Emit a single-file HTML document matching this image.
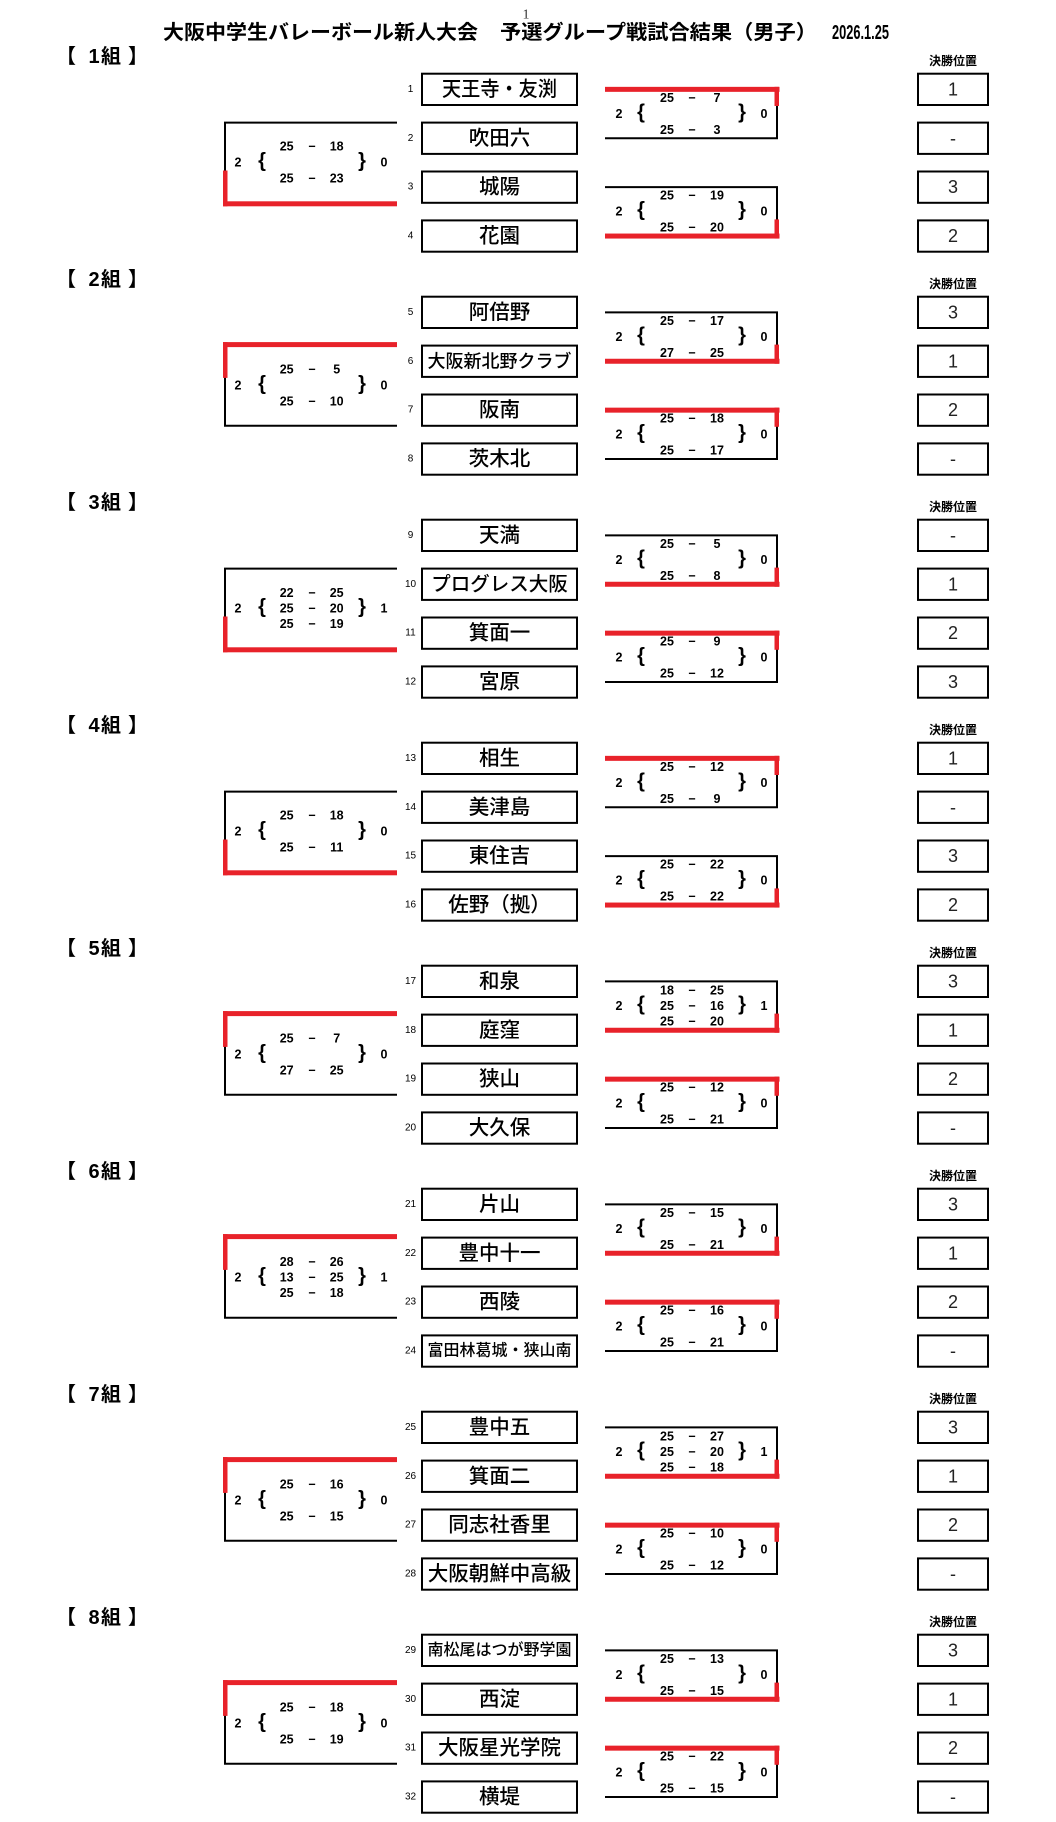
<!DOCTYPE html>
<html><head><meta charset="utf-8">
<style>
html,body{margin:0;padding:0;background:#fff}
svg{display:block}
text{dominant-baseline:central;font-family:"Liberation Sans","Noto Sans CJK JP",sans-serif;fill:#000}
.tt{font-size:20px;font-weight:bold}
.pg{font-family:"Liberation Serif",serif;font-size:14px;text-anchor:middle;fill:#333}
.hd{font-size:20px;font-weight:bold}
.kp{font-size:12px;font-weight:bold;text-anchor:middle}
.nm{font-size:10px;text-anchor:middle}
.tm{font-size:20.5px;font-weight:500;text-anchor:middle}
.ps{font-size:18px;text-anchor:middle;fill:#222}
.sc{font-size:12.5px;font-weight:bold;text-anchor:middle}
.br{font-size:20px;font-weight:bold;text-anchor:middle}
</style></head><body>
<svg width="1056" height="1822" viewBox="0 0 1056 1822" xmlns="http://www.w3.org/2000/svg">
<defs>
<g id="fr">
<path d="M397,122.6H225V202.8H397M605,89.35H777V138.25H605M605,187.15H777V236.05H605" fill="none" stroke="#000" stroke-width="2"/>
<g fill="none" stroke="#000" stroke-width="2">
<rect x="422" y="73.7" width="155" height="31.3"/>
<rect x="422" y="122.6" width="155" height="31.3"/>
<rect x="422" y="171.5" width="155" height="31.3"/>
<rect x="422" y="220.4" width="155" height="31.3"/>
<rect x="918" y="73.7" width="70" height="31.3"/>
<rect x="918" y="122.6" width="70" height="31.3"/>
<rect x="918" y="171.5" width="70" height="31.3"/>
<rect x="918" y="220.4" width="70" height="31.3"/>
</g>
</g>
<g id="L1" fill="#e8222a"><rect x="223" y="119.1" width="174" height="5"/><rect x="223" y="119.1" width="4.5" height="35.8"/></g>
<g id="L2" fill="#e8222a"><rect x="223" y="170.5" width="4.5" height="35.8"/><rect x="223" y="201.3" width="174" height="5"/></g>
<g id="R0" fill="#e8222a"><rect x="605" y="86.85" width="174.5" height="5"/><rect x="774.5" y="86.85" width="4.5" height="19.15"/></g>
<g id="R1" fill="#e8222a"><rect x="605" y="135.75" width="174.5" height="5"/><rect x="774.5" y="121.6" width="4.5" height="19.15"/></g>
<g id="R2" fill="#e8222a"><rect x="605" y="184.65" width="174.5" height="5"/><rect x="774.5" y="184.65" width="4.5" height="19.15"/></g>
<g id="R3" fill="#e8222a"><rect x="605" y="233.55" width="174.5" height="5"/><rect x="774.5" y="219.4" width="4.5" height="19.15"/></g>
</defs>

<text class="pg" x="526" y="15">1</text>
<text class="tt" x="163" y="33" textLength="315" lengthAdjust="spacingAndGlyphs">大阪中学生バレーボール新人大会</text>
<text class="tt" x="500" y="33" textLength="317" lengthAdjust="spacingAndGlyphs">予選グループ戦試合結果（男子）</text>
<text class="tt" x="832" y="33" textLength="57" lengthAdjust="spacingAndGlyphs">2026.1.25</text>

<!-- Group 1 -->
<g transform="translate(0,0)">
<use href="#fr"/>
<text class="hd" x="56" y="57">【</text><text class="hd" x="94" y="57" text-anchor="middle">1</text><text class="hd" x="101" y="57">組</text><text class="hd" x="128" y="57">】</text>
<text class="kp" x="953" y="61">決勝位置</text>
<text class="nm" x="410.5" y="89.35">1</text><text class="nm" x="410.5" y="138.25">2</text><text class="nm" x="410.5" y="187.15">3</text><text class="nm" x="410.5" y="236.05">4</text>
<text class="tm" x="499.5" y="89.35" textLength="115" lengthAdjust="spacingAndGlyphs">天王寺・友渕</text>
<text class="tm" x="499.5" y="138.25">吹田六</text>
<text class="tm" x="499.5" y="187.15">城陽</text>
<text class="tm" x="499.5" y="236.05">花園</text>
<text class="ps" x="953" y="89.35">1</text><text class="ps" x="953" y="138.25">-</text><text class="ps" x="953" y="187.15">3</text><text class="ps" x="953" y="236.05">2</text>
<text class="sc" x="238" y="162.7">2</text><text class="br" x="262" y="161.2">{</text><text class="br" x="362" y="161.2">}</text><text class="sc" x="384" y="162.7">0</text>
<text class="sc" y="146.7"><tspan x="286.7">25</tspan><tspan x="312">−</tspan><tspan x="336.7">18</tspan></text>
<text class="sc" y="178.7"><tspan x="286.7">25</tspan><tspan x="312">−</tspan><tspan x="336.7">23</tspan></text>
<text class="sc" x="619" y="113.8">2</text><text class="br" x="641" y="112.3">{</text><text class="br" x="742" y="112.3">}</text><text class="sc" x="764" y="113.8">0</text>
<text class="sc" y="97.8"><tspan x="667">25</tspan><tspan x="692">−</tspan><tspan x="717">7</tspan></text>
<text class="sc" y="129.8"><tspan x="667">25</tspan><tspan x="692">−</tspan><tspan x="717">3</tspan></text>
<text class="sc" x="619" y="211.6">2</text><text class="br" x="641" y="210.1">{</text><text class="br" x="742" y="210.1">}</text><text class="sc" x="764" y="211.6">0</text>
<text class="sc" y="195.6"><tspan x="667">25</tspan><tspan x="692">−</tspan><tspan x="717">19</tspan></text>
<text class="sc" y="227.6"><tspan x="667">25</tspan><tspan x="692">−</tspan><tspan x="717">20</tspan></text>
<use href="#L2"/><use href="#R0"/><use href="#R3"/>
</g>

<!-- Group 2 -->
<g transform="translate(0,223)">
<use href="#fr"/>
<text class="hd" x="56" y="57">【</text><text class="hd" x="94" y="57" text-anchor="middle">2</text><text class="hd" x="101" y="57">組</text><text class="hd" x="128" y="57">】</text>
<text class="kp" x="953" y="61">決勝位置</text>
<text class="nm" x="410.5" y="89.35">5</text><text class="nm" x="410.5" y="138.25">6</text><text class="nm" x="410.5" y="187.15">7</text><text class="nm" x="410.5" y="236.05">8</text>
<text class="tm" x="499.5" y="89.35">阿倍野</text>
<text class="tm" x="499.5" y="138.25" style="font-size:18px">大阪新北野クラブ</text>
<text class="tm" x="499.5" y="187.15">阪南</text>
<text class="tm" x="499.5" y="236.05">茨木北</text>
<text class="ps" x="953" y="89.35">3</text><text class="ps" x="953" y="138.25">1</text><text class="ps" x="953" y="187.15">2</text><text class="ps" x="953" y="236.05">-</text>
<text class="sc" x="238" y="162.7">2</text><text class="br" x="262" y="161.2">{</text><text class="br" x="362" y="161.2">}</text><text class="sc" x="384" y="162.7">0</text>
<text class="sc" y="146.7"><tspan x="286.7">25</tspan><tspan x="312">−</tspan><tspan x="336.7">5</tspan></text>
<text class="sc" y="178.7"><tspan x="286.7">25</tspan><tspan x="312">−</tspan><tspan x="336.7">10</tspan></text>
<text class="sc" x="619" y="113.8">2</text><text class="br" x="641" y="112.3">{</text><text class="br" x="742" y="112.3">}</text><text class="sc" x="764" y="113.8">0</text>
<text class="sc" y="97.8"><tspan x="667">25</tspan><tspan x="692">−</tspan><tspan x="717">17</tspan></text>
<text class="sc" y="129.8"><tspan x="667">27</tspan><tspan x="692">−</tspan><tspan x="717">25</tspan></text>
<text class="sc" x="619" y="211.6">2</text><text class="br" x="641" y="210.1">{</text><text class="br" x="742" y="210.1">}</text><text class="sc" x="764" y="211.6">0</text>
<text class="sc" y="195.6"><tspan x="667">25</tspan><tspan x="692">−</tspan><tspan x="717">18</tspan></text>
<text class="sc" y="227.6"><tspan x="667">25</tspan><tspan x="692">−</tspan><tspan x="717">17</tspan></text>
<use href="#L1"/><use href="#R1"/><use href="#R2"/>
</g>

<!-- Group 3 -->
<g transform="translate(0,446)">
<use href="#fr"/>
<text class="hd" x="56" y="57">【</text><text class="hd" x="94" y="57" text-anchor="middle">3</text><text class="hd" x="101" y="57">組</text><text class="hd" x="128" y="57">】</text>
<text class="kp" x="953" y="61">決勝位置</text>
<text class="nm" x="410.5" y="89.35">9</text><text class="nm" x="410.5" y="138.25">10</text><text class="nm" x="410.5" y="187.15">11</text><text class="nm" x="410.5" y="236.05">12</text>
<text class="tm" x="499.5" y="89.35">天満</text>
<text class="tm" x="499.5" y="138.25" style="font-size:19.5px">プログレス大阪</text>
<text class="tm" x="499.5" y="187.15">箕面一</text>
<text class="tm" x="499.5" y="236.05">宮原</text>
<text class="ps" x="953" y="89.35">-</text><text class="ps" x="953" y="138.25">1</text><text class="ps" x="953" y="187.15">2</text><text class="ps" x="953" y="236.05">3</text>
<text class="sc" x="238" y="162.7">2</text><text class="br" x="262" y="161.2">{</text><text class="br" x="362" y="161.2">}</text><text class="sc" x="384" y="162.7">1</text>
<text class="sc" y="147.2"><tspan x="286.7">22</tspan><tspan x="312">−</tspan><tspan x="336.7">25</tspan></text>
<text class="sc" y="162.7"><tspan x="286.7">25</tspan><tspan x="312">−</tspan><tspan x="336.7">20</tspan></text>
<text class="sc" y="178.2"><tspan x="286.7">25</tspan><tspan x="312">−</tspan><tspan x="336.7">19</tspan></text>
<text class="sc" x="619" y="113.8">2</text><text class="br" x="641" y="112.3">{</text><text class="br" x="742" y="112.3">}</text><text class="sc" x="764" y="113.8">0</text>
<text class="sc" y="97.8"><tspan x="667">25</tspan><tspan x="692">−</tspan><tspan x="717">5</tspan></text>
<text class="sc" y="129.8"><tspan x="667">25</tspan><tspan x="692">−</tspan><tspan x="717">8</tspan></text>
<text class="sc" x="619" y="211.6">2</text><text class="br" x="641" y="210.1">{</text><text class="br" x="742" y="210.1">}</text><text class="sc" x="764" y="211.6">0</text>
<text class="sc" y="195.6"><tspan x="667">25</tspan><tspan x="692">−</tspan><tspan x="717">9</tspan></text>
<text class="sc" y="227.6"><tspan x="667">25</tspan><tspan x="692">−</tspan><tspan x="717">12</tspan></text>
<use href="#L2"/><use href="#R1"/><use href="#R2"/>
</g>

<!-- Group 4 -->
<g transform="translate(0,669)">
<use href="#fr"/>
<text class="hd" x="56" y="57">【</text><text class="hd" x="94" y="57" text-anchor="middle">4</text><text class="hd" x="101" y="57">組</text><text class="hd" x="128" y="57">】</text>
<text class="kp" x="953" y="61">決勝位置</text>
<text class="nm" x="410.5" y="89.35">13</text><text class="nm" x="410.5" y="138.25">14</text><text class="nm" x="410.5" y="187.15">15</text><text class="nm" x="410.5" y="236.05">16</text>
<text class="tm" x="499.5" y="89.35">相生</text>
<text class="tm" x="499.5" y="138.25">美津島</text>
<text class="tm" x="499.5" y="187.15">東住吉</text>
<text class="tm" x="499.5" y="236.05">佐野（拠）</text>
<text class="ps" x="953" y="89.35">1</text><text class="ps" x="953" y="138.25">-</text><text class="ps" x="953" y="187.15">3</text><text class="ps" x="953" y="236.05">2</text>
<text class="sc" x="238" y="162.7">2</text><text class="br" x="262" y="161.2">{</text><text class="br" x="362" y="161.2">}</text><text class="sc" x="384" y="162.7">0</text>
<text class="sc" y="146.7"><tspan x="286.7">25</tspan><tspan x="312">−</tspan><tspan x="336.7">18</tspan></text>
<text class="sc" y="178.7"><tspan x="286.7">25</tspan><tspan x="312">−</tspan><tspan x="336.7">11</tspan></text>
<text class="sc" x="619" y="113.8">2</text><text class="br" x="641" y="112.3">{</text><text class="br" x="742" y="112.3">}</text><text class="sc" x="764" y="113.8">0</text>
<text class="sc" y="97.8"><tspan x="667">25</tspan><tspan x="692">−</tspan><tspan x="717">12</tspan></text>
<text class="sc" y="129.8"><tspan x="667">25</tspan><tspan x="692">−</tspan><tspan x="717">9</tspan></text>
<text class="sc" x="619" y="211.6">2</text><text class="br" x="641" y="210.1">{</text><text class="br" x="742" y="210.1">}</text><text class="sc" x="764" y="211.6">0</text>
<text class="sc" y="195.6"><tspan x="667">25</tspan><tspan x="692">−</tspan><tspan x="717">22</tspan></text>
<text class="sc" y="227.6"><tspan x="667">25</tspan><tspan x="692">−</tspan><tspan x="717">22</tspan></text>
<use href="#L2"/><use href="#R0"/><use href="#R3"/>
</g>

<!-- Group 5 -->
<g transform="translate(0,892)">
<use href="#fr"/>
<text class="hd" x="56" y="57">【</text><text class="hd" x="94" y="57" text-anchor="middle">5</text><text class="hd" x="101" y="57">組</text><text class="hd" x="128" y="57">】</text>
<text class="kp" x="953" y="61">決勝位置</text>
<text class="nm" x="410.5" y="89.35">17</text><text class="nm" x="410.5" y="138.25">18</text><text class="nm" x="410.5" y="187.15">19</text><text class="nm" x="410.5" y="236.05">20</text>
<text class="tm" x="499.5" y="89.35">和泉</text>
<text class="tm" x="499.5" y="138.25">庭窪</text>
<text class="tm" x="499.5" y="187.15">狭山</text>
<text class="tm" x="499.5" y="236.05">大久保</text>
<text class="ps" x="953" y="89.35">3</text><text class="ps" x="953" y="138.25">1</text><text class="ps" x="953" y="187.15">2</text><text class="ps" x="953" y="236.05">-</text>
<text class="sc" x="238" y="162.7">2</text><text class="br" x="262" y="161.2">{</text><text class="br" x="362" y="161.2">}</text><text class="sc" x="384" y="162.7">0</text>
<text class="sc" y="146.7"><tspan x="286.7">25</tspan><tspan x="312">−</tspan><tspan x="336.7">7</tspan></text>
<text class="sc" y="178.7"><tspan x="286.7">27</tspan><tspan x="312">−</tspan><tspan x="336.7">25</tspan></text>
<text class="sc" x="619" y="113.8">2</text><text class="br" x="641" y="112.3">{</text><text class="br" x="742" y="112.3">}</text><text class="sc" x="764" y="113.8">1</text>
<text class="sc" y="98.3"><tspan x="667">18</tspan><tspan x="692">−</tspan><tspan x="717">25</tspan></text>
<text class="sc" y="113.8"><tspan x="667">25</tspan><tspan x="692">−</tspan><tspan x="717">16</tspan></text>
<text class="sc" y="129.3"><tspan x="667">25</tspan><tspan x="692">−</tspan><tspan x="717">20</tspan></text>
<text class="sc" x="619" y="211.6">2</text><text class="br" x="641" y="210.1">{</text><text class="br" x="742" y="210.1">}</text><text class="sc" x="764" y="211.6">0</text>
<text class="sc" y="195.6"><tspan x="667">25</tspan><tspan x="692">−</tspan><tspan x="717">12</tspan></text>
<text class="sc" y="227.6"><tspan x="667">25</tspan><tspan x="692">−</tspan><tspan x="717">21</tspan></text>
<use href="#L1"/><use href="#R1"/><use href="#R2"/>
</g>

<!-- Group 6 -->
<g transform="translate(0,1115)">
<use href="#fr"/>
<text class="hd" x="56" y="57">【</text><text class="hd" x="94" y="57" text-anchor="middle">6</text><text class="hd" x="101" y="57">組</text><text class="hd" x="128" y="57">】</text>
<text class="kp" x="953" y="61">決勝位置</text>
<text class="nm" x="410.5" y="89.35">21</text><text class="nm" x="410.5" y="138.25">22</text><text class="nm" x="410.5" y="187.15">23</text><text class="nm" x="410.5" y="236.05">24</text>
<text class="tm" x="499.5" y="89.35">片山</text>
<text class="tm" x="499.5" y="138.25">豊中十一</text>
<text class="tm" x="499.5" y="187.15">西陵</text>
<text class="tm" x="499.5" y="236.05" style="font-size:16px">富田林葛城・狭山南</text>
<text class="ps" x="953" y="89.35">3</text><text class="ps" x="953" y="138.25">1</text><text class="ps" x="953" y="187.15">2</text><text class="ps" x="953" y="236.05">-</text>
<text class="sc" x="238" y="162.7">2</text><text class="br" x="262" y="161.2">{</text><text class="br" x="362" y="161.2">}</text><text class="sc" x="384" y="162.7">1</text>
<text class="sc" y="147.2"><tspan x="286.7">28</tspan><tspan x="312">−</tspan><tspan x="336.7">26</tspan></text>
<text class="sc" y="162.7"><tspan x="286.7">13</tspan><tspan x="312">−</tspan><tspan x="336.7">25</tspan></text>
<text class="sc" y="178.2"><tspan x="286.7">25</tspan><tspan x="312">−</tspan><tspan x="336.7">18</tspan></text>
<text class="sc" x="619" y="113.8">2</text><text class="br" x="641" y="112.3">{</text><text class="br" x="742" y="112.3">}</text><text class="sc" x="764" y="113.8">0</text>
<text class="sc" y="97.8"><tspan x="667">25</tspan><tspan x="692">−</tspan><tspan x="717">15</tspan></text>
<text class="sc" y="129.8"><tspan x="667">25</tspan><tspan x="692">−</tspan><tspan x="717">21</tspan></text>
<text class="sc" x="619" y="211.6">2</text><text class="br" x="641" y="210.1">{</text><text class="br" x="742" y="210.1">}</text><text class="sc" x="764" y="211.6">0</text>
<text class="sc" y="195.6"><tspan x="667">25</tspan><tspan x="692">−</tspan><tspan x="717">16</tspan></text>
<text class="sc" y="227.6"><tspan x="667">25</tspan><tspan x="692">−</tspan><tspan x="717">21</tspan></text>
<use href="#L1"/><use href="#R1"/><use href="#R2"/>
</g>

<!-- Group 7 -->
<g transform="translate(0,1338)">
<use href="#fr"/>
<text class="hd" x="56" y="57">【</text><text class="hd" x="94" y="57" text-anchor="middle">7</text><text class="hd" x="101" y="57">組</text><text class="hd" x="128" y="57">】</text>
<text class="kp" x="953" y="61">決勝位置</text>
<text class="nm" x="410.5" y="89.35">25</text><text class="nm" x="410.5" y="138.25">26</text><text class="nm" x="410.5" y="187.15">27</text><text class="nm" x="410.5" y="236.05">28</text>
<text class="tm" x="499.5" y="89.35">豊中五</text>
<text class="tm" x="499.5" y="138.25">箕面二</text>
<text class="tm" x="499.5" y="187.15">同志社香里</text>
<text class="tm" x="499.5" y="236.05">大阪朝鮮中高級</text>
<text class="ps" x="953" y="89.35">3</text><text class="ps" x="953" y="138.25">1</text><text class="ps" x="953" y="187.15">2</text><text class="ps" x="953" y="236.05">-</text>
<text class="sc" x="238" y="162.7">2</text><text class="br" x="262" y="161.2">{</text><text class="br" x="362" y="161.2">}</text><text class="sc" x="384" y="162.7">0</text>
<text class="sc" y="146.7"><tspan x="286.7">25</tspan><tspan x="312">−</tspan><tspan x="336.7">16</tspan></text>
<text class="sc" y="178.7"><tspan x="286.7">25</tspan><tspan x="312">−</tspan><tspan x="336.7">15</tspan></text>
<text class="sc" x="619" y="113.8">2</text><text class="br" x="641" y="112.3">{</text><text class="br" x="742" y="112.3">}</text><text class="sc" x="764" y="113.8">1</text>
<text class="sc" y="98.3"><tspan x="667">25</tspan><tspan x="692">−</tspan><tspan x="717">27</tspan></text>
<text class="sc" y="113.8"><tspan x="667">25</tspan><tspan x="692">−</tspan><tspan x="717">20</tspan></text>
<text class="sc" y="129.3"><tspan x="667">25</tspan><tspan x="692">−</tspan><tspan x="717">18</tspan></text>
<text class="sc" x="619" y="211.6">2</text><text class="br" x="641" y="210.1">{</text><text class="br" x="742" y="210.1">}</text><text class="sc" x="764" y="211.6">0</text>
<text class="sc" y="195.6"><tspan x="667">25</tspan><tspan x="692">−</tspan><tspan x="717">10</tspan></text>
<text class="sc" y="227.6"><tspan x="667">25</tspan><tspan x="692">−</tspan><tspan x="717">12</tspan></text>
<use href="#L1"/><use href="#R1"/><use href="#R2"/>
</g>

<!-- Group 8 -->
<g transform="translate(0,1561)">
<use href="#fr"/>
<text class="hd" x="56" y="57">【</text><text class="hd" x="94" y="57" text-anchor="middle">8</text><text class="hd" x="101" y="57">組</text><text class="hd" x="128" y="57">】</text>
<text class="kp" x="953" y="61">決勝位置</text>
<text class="nm" x="410.5" y="89.35">29</text><text class="nm" x="410.5" y="138.25">30</text><text class="nm" x="410.5" y="187.15">31</text><text class="nm" x="410.5" y="236.05">32</text>
<text class="tm" x="499.5" y="89.35" style="font-size:16px">南松尾はつが野学園</text>
<text class="tm" x="499.5" y="138.25">西淀</text>
<text class="tm" x="499.5" y="187.15">大阪星光学院</text>
<text class="tm" x="499.5" y="236.05">横堤</text>
<text class="ps" x="953" y="89.35">3</text><text class="ps" x="953" y="138.25">1</text><text class="ps" x="953" y="187.15">2</text><text class="ps" x="953" y="236.05">-</text>
<text class="sc" x="238" y="162.7">2</text><text class="br" x="262" y="161.2">{</text><text class="br" x="362" y="161.2">}</text><text class="sc" x="384" y="162.7">0</text>
<text class="sc" y="146.7"><tspan x="286.7">25</tspan><tspan x="312">−</tspan><tspan x="336.7">18</tspan></text>
<text class="sc" y="178.7"><tspan x="286.7">25</tspan><tspan x="312">−</tspan><tspan x="336.7">19</tspan></text>
<text class="sc" x="619" y="113.8">2</text><text class="br" x="641" y="112.3">{</text><text class="br" x="742" y="112.3">}</text><text class="sc" x="764" y="113.8">0</text>
<text class="sc" y="97.8"><tspan x="667">25</tspan><tspan x="692">−</tspan><tspan x="717">13</tspan></text>
<text class="sc" y="129.8"><tspan x="667">25</tspan><tspan x="692">−</tspan><tspan x="717">15</tspan></text>
<text class="sc" x="619" y="211.6">2</text><text class="br" x="641" y="210.1">{</text><text class="br" x="742" y="210.1">}</text><text class="sc" x="764" y="211.6">0</text>
<text class="sc" y="195.6"><tspan x="667">25</tspan><tspan x="692">−</tspan><tspan x="717">22</tspan></text>
<text class="sc" y="227.6"><tspan x="667">25</tspan><tspan x="692">−</tspan><tspan x="717">15</tspan></text>
<use href="#L1"/><use href="#R1"/><use href="#R2"/>
</g>
</svg>
</body></html>
